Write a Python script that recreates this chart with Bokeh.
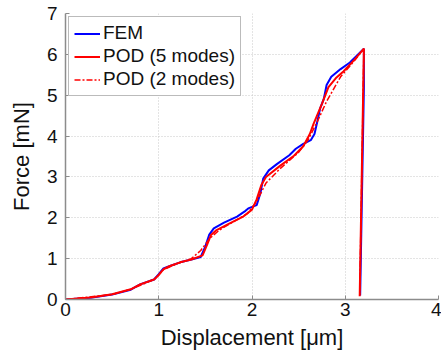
from bokeh.plotting import figure
from bokeh.models import Legend, LegendItem, FixedTicker, Range1d
from bokeh.embed import file_html
from bokeh.resources import INLINE

# --- data ---
fem_x = [0, 0.27, 0.5, 0.7, 0.8, 0.95, 1.0, 1.05, 1.12, 1.23, 1.35, 1.45, 1.5, 1.54, 1.59, 1.7,
         1.84, 1.93, 1.96, 2.05, 2.09, 2.12, 2.18, 2.27, 2.4, 2.47, 2.55, 2.63, 2.67, 2.7, 2.73,
         2.77, 2.8, 2.85, 2.95, 3.05, 3.2, 3.2, 3.16]
fem_f = [0, 0.04, 0.12, 0.24, 0.37, 0.49, 0.62, 0.76, 0.82, 0.91, 0.98, 1.04, 1.3, 1.58, 1.74, 1.88,
         2.03, 2.17, 2.23, 2.31, 2.6, 2.96, 3.16, 3.32, 3.53, 3.69, 3.81, 3.9, 4.05, 4.35, 4.67,
         4.91, 5.25, 5.45, 5.64, 5.8, 6.14, 5.2, 0.1]

pod5_x = [0, 0.27, 0.5, 0.7, 0.8, 0.95, 1.0, 1.05, 1.12, 1.23, 1.35, 1.47, 1.52, 1.56, 1.62, 1.75,
          1.9, 2.0, 2.05, 2.1, 2.15, 2.3, 2.45, 2.55, 2.62, 2.66, 2.75, 2.82, 2.9, 2.98, 3.1, 3.2, 3.155]
pod5_f = [0, 0.05, 0.13, 0.25, 0.37, 0.49, 0.6, 0.74, 0.82, 0.91, 0.98, 1.08, 1.35, 1.58, 1.7, 1.85,
          2.02, 2.2, 2.45, 2.8, 3.0, 3.27, 3.52, 3.75, 4.05, 4.3, 4.79, 5.2, 5.42, 5.58, 5.87, 6.14, 0.08]

pod2_x = [0, 0.5, 0.7, 0.95, 1.0, 1.05, 1.2, 1.35, 1.45, 1.55, 1.65, 1.8, 1.95, 2.05, 2.15, 2.3,
          2.5, 2.6, 2.7, 2.8, 2.95, 3.1, 3.2, 3.155]
pod2_f = [0, 0.12, 0.25, 0.49, 0.6, 0.73, 0.88, 1.0, 1.2, 1.5, 1.7, 1.9, 2.1, 2.4, 2.85, 3.2,
          3.6, 3.9, 4.35, 4.85, 5.45, 5.85, 6.14, 0.08]

x_ticks = [0, 1, 2, 3, 4]
y_ticks = [0, 1, 2, 3, 4, 5, 6, 7]

FONT = "Liberation Sans"

p = figure(width=441, height=361, output_backend="svg", toolbar_location=None,
           x_range=Range1d(0, 4), y_range=Range1d(0, 7),
           min_border_left=65, min_border_right=3, min_border_top=13, min_border_bottom=62)
p.frame_width = 373
p.frame_height = 286
p.outline_line_color = None
p.background_fill_color = "white"
p.border_fill_color = "white"

for ax in (p.xaxis[0], p.yaxis[0]):
    ax.axis_line_color = "#8c8c8c"
    ax.axis_line_width = 1.5
    ax.major_tick_line_color = "#8c8c8c"
    ax.major_tick_in = 4
    ax.major_tick_out = 0
    ax.minor_tick_line_color = None
    ax.major_label_text_font = FONT
    ax.major_label_text_font_size = "19px"
    ax.major_label_text_color = "#111111"
    ax.axis_label_text_font = FONT
    ax.axis_label_text_font_size = "22px"
    ax.axis_label_text_font_style = "normal"
    ax.axis_label_text_color = "#111111"

p.xaxis[0].ticker = FixedTicker(ticks=x_ticks)
p.yaxis[0].ticker = FixedTicker(ticks=y_ticks)
p.xaxis[0].axis_label = "Displacement [\u03bcm]"
p.yaxis[0].axis_label = "Force [mN]"
p.xaxis[0].major_label_standoff = 3
p.xaxis[0].axis_label_standoff = 6
p.yaxis[0].major_label_standoff = 8
p.yaxis[0].axis_label_standoff = 10

for g in (p.xgrid[0], p.ygrid[0]):
    g.grid_line_color = "#c8c8c8"
    g.grid_line_dash = "1 2"
    g.grid_line_width = 1

r_fem = p.line(fem_x, fem_f, line_color="#0000ff", line_width=2)
r_p5 = p.line(pod5_x, pod5_f, line_color="#ff0000", line_width=2)
r_p2 = p.line(pod2_x, pod2_f, line_color="#ff0000", line_width=1.5, line_dash="6 2 2 2")

legend = Legend(items=[LegendItem(label="FEM", renderers=[r_fem]),
                       LegendItem(label="POD (5 modes)", renderers=[r_p5]),
                       LegendItem(label="POD (2 modes)", renderers=[r_p2])],
                location="top_left")
legend.label_text_font = FONT
legend.label_text_font_size = "19px"
legend.label_text_color = "#111111"
legend.border_line_color = "#777777"
legend.border_line_width = 1
legend.background_fill_color = "white"
legend.background_fill_alpha = 1
legend.glyph_width = 26
legend.glyph_height = 21
legend.label_height = 21
legend.label_standoff = 3
legend.spacing = 1
legend.padding = 5
legend.margin = 3
p.add_layout(legend)

open("out.html", "w").write(file_html(p, INLINE))
